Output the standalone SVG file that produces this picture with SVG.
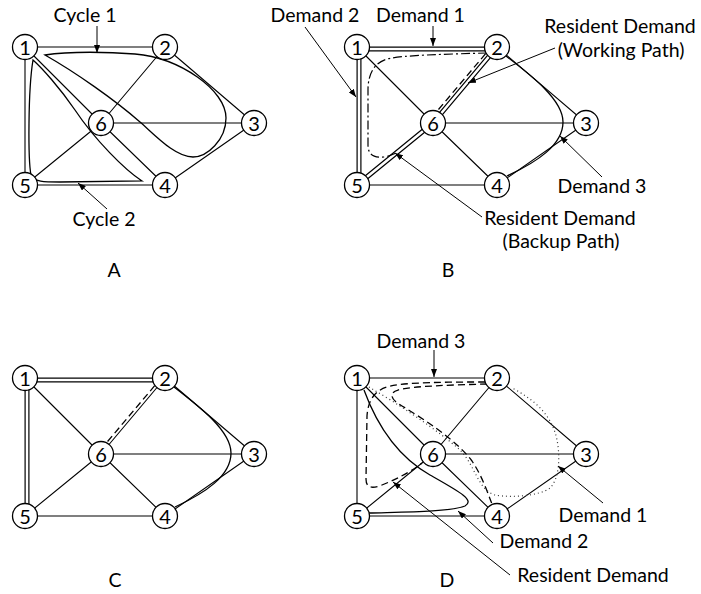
<svg xmlns="http://www.w3.org/2000/svg" width="701" height="594" viewBox="0 0 701 594">
<defs>
<marker id="ah" viewBox="0 0 8 6" refX="8" refY="3" markerWidth="8" markerHeight="6" markerUnits="userSpaceOnUse" orient="auto">
<path d="M0,0 L8,3 L0,6 z" fill="#000"/>
</marker>
</defs>
<style>
.e{stroke:#000;stroke-width:1.1;fill:none}
.do{stroke:#000;stroke-width:5;fill:none}
.di{stroke:#fff;stroke-width:2.6;fill:none}
.c{stroke:#000;stroke-width:1.3;fill:none}
.dash{stroke:#000;stroke-width:1.3;fill:none;stroke-dasharray:7 4}
.dd{stroke:#000;stroke-width:1.2;fill:none;stroke-dasharray:9 3 2 3}
.dot{stroke:#333;stroke-width:1.2;fill:none;stroke-dasharray:1 3}
.a{stroke:#000;stroke-width:1;fill:none;marker-end:url(#ah)}
.n circle{fill:#fff;stroke:#000;stroke-width:1.3}
.n text{font-family:Lato,"Open Sans",sans-serif;font-size:20px;text-anchor:middle;fill:#000}
.t{font-family:Lato,"Open Sans",sans-serif;font-size:19.5px;text-anchor:middle;fill:#000}
</style>
<rect width="701" height="594" fill="#fff"/>

<!-- Panel A -->
<g id="panelA">
<g id="A-connectors">
<path class="e" d="M25,47 L165,47 M25,47 L25,185 M25,47 L101,123 M165,47 L101,123 M165,47 L254,123 M101,123 L254,123 M101,123 L25,185 M101,123 L165,185 M25,185 L165,185 M254,123 L165,185"/>
<path class="c" d="M45,55 C70,51 110,52 135,54 C180,58 226,90 226,118 C226,140 207,157 193,157 C175,157 155,135 140,122 C115,100 75,72 45,55 Z"/>
<path class="c" d="M33,60 C28,90 28,160 31,175 C33,182 45,182 60,182 L142,181 C125,170 95,140 75,110 C60,88 42,68 33,60 Z"/>
<path class="a" d="M97,26 L97,53"/>
<path class="a" d="M107,209 L78,183"/>
</g>
<g id="A-n1" class="n"><circle cx="25" cy="47" r="12.5"/><text x="25" y="54.5">1</text></g>
<g id="A-n2" class="n"><circle cx="165" cy="47" r="12.5"/><text x="165" y="54.5">2</text></g>
<g id="A-n3" class="n"><circle cx="254" cy="123" r="12.5"/><text x="254" y="130.5">3</text></g>
<g id="A-n4" class="n"><circle cx="165" cy="185" r="12.5"/><text x="165" y="192.5">4</text></g>
<g id="A-n5" class="n"><circle cx="25" cy="185" r="12.5"/><text x="25" y="192.5">5</text></g>
<g id="A-n6" class="n"><circle cx="101" cy="123" r="12.5"/><text x="101" y="130.5">6</text></g>
</g>

<!-- Panel B -->
<g id="panelB" transform="translate(332,0)">
<g id="B-connectors">
<path class="e" d="M25,47 L101,123 M165,47 L254,123 M101,123 L254,123 M101,123 L165,185 M25,185 L165,185 M254,123 L165,185"/>
<path class="do" d="M25,49 L165,49 M27,47 L27,185 M165,47 L101,123 M101,123 L25,185"/>
<path class="di" d="M25,49 L165,49 M27,47 L27,185 M165,47 L101,123 M101,123 L25,185"/>
<path class="dash" d="M153.6,53.7 L105.6,110.5"/>
<path class="dd" d="M155,53 C120,54 70,55 55,59 C42,63 36,74 36,90 L36,145 C36,155 42,158 52,157 C58,156 62,154 66,152"/>
<path class="c" d="M174,56 C200,76 231,100 231,122 C231,145 205,162 175,176"/>
<path class="a" d="M101,26 L101,46"/>
<path class="a" d="M-27,27 L24,97"/>
<path class="a" d="M223,48 L136,83"/>
<path class="a" d="M150,217 L63,153"/>
<path class="a" d="M270,177 L228,136"/>
</g>
<g id="B-n1" class="n"><circle cx="25" cy="47" r="12.5"/><text x="25" y="54.5">1</text></g>
<g id="B-n2" class="n"><circle cx="165" cy="47" r="12.5"/><text x="165" y="54.5">2</text></g>
<g id="B-n3" class="n"><circle cx="254" cy="123" r="12.5"/><text x="254" y="130.5">3</text></g>
<g id="B-n4" class="n"><circle cx="165" cy="185" r="12.5"/><text x="165" y="192.5">4</text></g>
<g id="B-n5" class="n"><circle cx="25" cy="185" r="12.5"/><text x="25" y="192.5">5</text></g>
<g id="B-n6" class="n"><circle cx="101" cy="123" r="12.5"/><text x="101" y="130.5">6</text></g>
</g>

<!-- Panel C -->
<g id="panelC" transform="translate(0,331)">
<g id="C-connectors">
<path class="e" d="M25,47 L101,123 M165,47 L101,123 M165,47 L254,123 M101,123 L254,123 M101,123 L25,185 M101,123 L165,185 M25,185 L165,185 M254,123 L165,185"/>
<path class="do" d="M25,49 L165,49 M27,47 L27,185"/>
<path class="di" d="M25,49 L165,49 M27,47 L27,185"/>
<path class="dash" d="M154.7,54.7 L106.7,111.5"/>
<path class="c" d="M174,56 C200,76 231,100 231,122 C231,145 205,162 175,176"/>
</g>
<g id="C-n1" class="n"><circle cx="25" cy="47" r="12.5"/><text x="25" y="54.5">1</text></g>
<g id="C-n2" class="n"><circle cx="165" cy="47" r="12.5"/><text x="165" y="54.5">2</text></g>
<g id="C-n3" class="n"><circle cx="254" cy="123" r="12.5"/><text x="254" y="130.5">3</text></g>
<g id="C-n4" class="n"><circle cx="165" cy="185" r="12.5"/><text x="165" y="192.5">4</text></g>
<g id="C-n5" class="n"><circle cx="25" cy="185" r="12.5"/><text x="25" y="192.5">5</text></g>
<g id="C-n6" class="n"><circle cx="101" cy="123" r="12.5"/><text x="101" y="130.5">6</text></g>
</g>

<!-- Panel D -->
<g id="panelD" transform="translate(332,331)">
<g id="D-connectors">
<path class="e" d="M25,47 L165,47 M25,47 L25,185 M25,47 L101,123 M165,47 L101,123 M165,47 L254,123 M101,123 L254,123 M101,123 L25,185 M101,123 L165,185 M25,185 L165,185 M254,123 L165,185"/>
<path class="dash" d="M153,51 C120,51 70,51 55,56 C42,60 36,70 35,85 L34,148 C34,157 40,158 50,154 C65,148 80,140 90,132"/>
<path class="dash" d="M155,53 C120,54 80,55 66,59 C56,62 59,69 70,75 C95,90 125,110 140,130 C150,145 155,160 160,173"/>
<path class="dot" d="M37,56 C68,74 108,101 128,119 C143,134 146,159 163,164 C178,167 208,165 218,157 C228,147 228,124 225,109 C220,84 203,69 180,57"/>
<path class="c" d="M32,59 C43,89 63,124 98,144 C128,161 143,169 133,175 C118,181 68,181 37,182"/>
<path class="a" d="M102,19 L102,46"/>
<path class="a" d="M271,172 L226,135"/>
<path class="a" d="M161,212 L126,180"/>
<path class="a" d="M178,244 L61,151"/>
</g>
<g id="D-n1" class="n"><circle cx="25" cy="47" r="12.5"/><text x="25" y="54.5">1</text></g>
<g id="D-n2" class="n"><circle cx="165" cy="47" r="12.5"/><text x="165" y="54.5">2</text></g>
<g id="D-n3" class="n"><circle cx="254" cy="123" r="12.5"/><text x="254" y="130.5">3</text></g>
<g id="D-n4" class="n"><circle cx="165" cy="185" r="12.5"/><text x="165" y="192.5">4</text></g>
<g id="D-n5" class="n"><circle cx="25" cy="185" r="12.5"/><text x="25" y="192.5">5</text></g>
<g id="D-n6" class="n"><circle cx="101" cy="123" r="12.5"/><text x="101" y="130.5">6</text></g>
</g>

<!-- Labels -->
<g id="labels">
<text class="t" x="85" y="22">Cycle 1</text>
<text class="t" x="104" y="226">Cycle 2</text>
<text class="t" x="114" y="277">A</text>
<text class="t" x="315" y="22">Demand 2</text>
<text class="t" x="420.5" y="22">Demand 1</text>
<text class="t" x="620" y="33">Resident Demand</text>
<text class="t" x="621" y="57">(Working Path)</text>
<text class="t" x="602" y="193">Demand 3</text>
<text class="t" x="560" y="225">Resident Demand</text>
<text class="t" x="561" y="248">(Backup Path)</text>
<text class="t" x="448" y="277">B</text>
<text class="t" x="115" y="587">C</text>
<text class="t" x="421" y="348">Demand 3</text>
<text class="t" x="603" y="522">Demand 1</text>
<text class="t" x="544" y="548">Demand 2</text>
<text class="t" x="593" y="582">Resident Demand</text>
<text class="t" x="447" y="587">D</text>
</g>
</svg>
